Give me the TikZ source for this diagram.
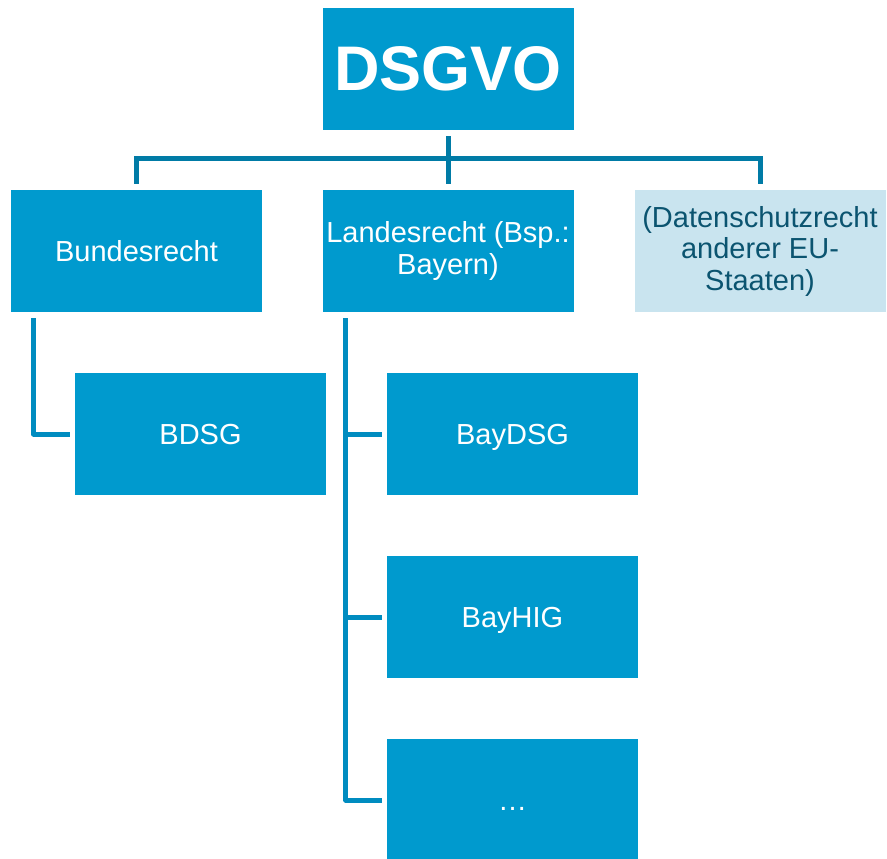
\documentclass[tikz,border=0pt]{standalone}
\usepackage{fontspec}
\setmainfont{Liberation Sans}
\definecolor{boxblue}{RGB}{0,154,206}
\definecolor{busblue}{RGB}{0,123,166}
\definecolor{branchblue}{RGB}{0,140,192}
\definecolor{paleblue}{RGB}{201,228,239}
\definecolor{paletext}{RGB}{11,84,112}
\tikzset{
  lawbox/.style={fill=boxblue, text=white, minimum width=251pt, minimum height=122pt,
    inner sep=0pt, align=center, font=\fontsize{29pt}{31.5pt}\selectfont},
  oneline/.style={lawbox, text height=21pt, text depth=1pt},
  palebox/.style={lawbox, fill=paleblue, text=paletext},
  busline/.style={draw=busblue, line width=5pt},
  branchline/.style={draw=branchblue, line width=5pt, line join=round},
}
\begin{document}
\begin{tikzpicture}[x=1pt, y=-1pt]
\useasboundingbox (0,0) rectangle (887,859);

% top level regulation
\node[lawbox, font=\fontsize{63pt}{66pt}\selectfont\bfseries] (dsgvo) at (448,69) {DSGVO};

% second level
\node[oneline] (bund) at (136.5,251) {Bundesrecht};
\node[lawbox] (land) at (448,251) {Landesrecht (Bsp.:\\Bayern)};
\node[palebox] (daten) at (760,251) {(Datenschutzrecht\\anderer EU-\\Staaten)};

% third level
\node[oneline] (bdsg) at (200.5,434) {BDSG};
\node[oneline] (baydsg) at (512.5,434) {BayDSG};
\node[oneline] (bayhig) at (512.5,617) {BayHIG};
\node[oneline] (more) at (512.5,800) {\ldots};

% bus from the regulation to the second level
\coordinate (bus) at (448,158);
\draw[busline, shorten <=6pt, shorten >=6pt] (bund.north) |- (bus) -| (daten.north);
\draw[busline, shorten <=6pt, shorten >=6pt] (dsgvo.south) -- (land.north);

% federal branch
\coordinate (bspine) at ([xshift=22.5pt]bund.south west);
\draw[branchline, shorten <=6pt, shorten >=5pt] (bspine) |- (bdsg.west);

% state branch
\coordinate (lspine) at ([xshift=23.5pt]land.south west);
\draw[branchline, shorten <=6pt, shorten >=5pt] (lspine) |- (more.west);
\draw[branchline, shorten >=5pt] (baydsg.west -| lspine) -- (baydsg.west);
\draw[branchline, shorten >=5pt] (bayhig.west -| lspine) -- (bayhig.west);
\end{tikzpicture}
\end{document}
